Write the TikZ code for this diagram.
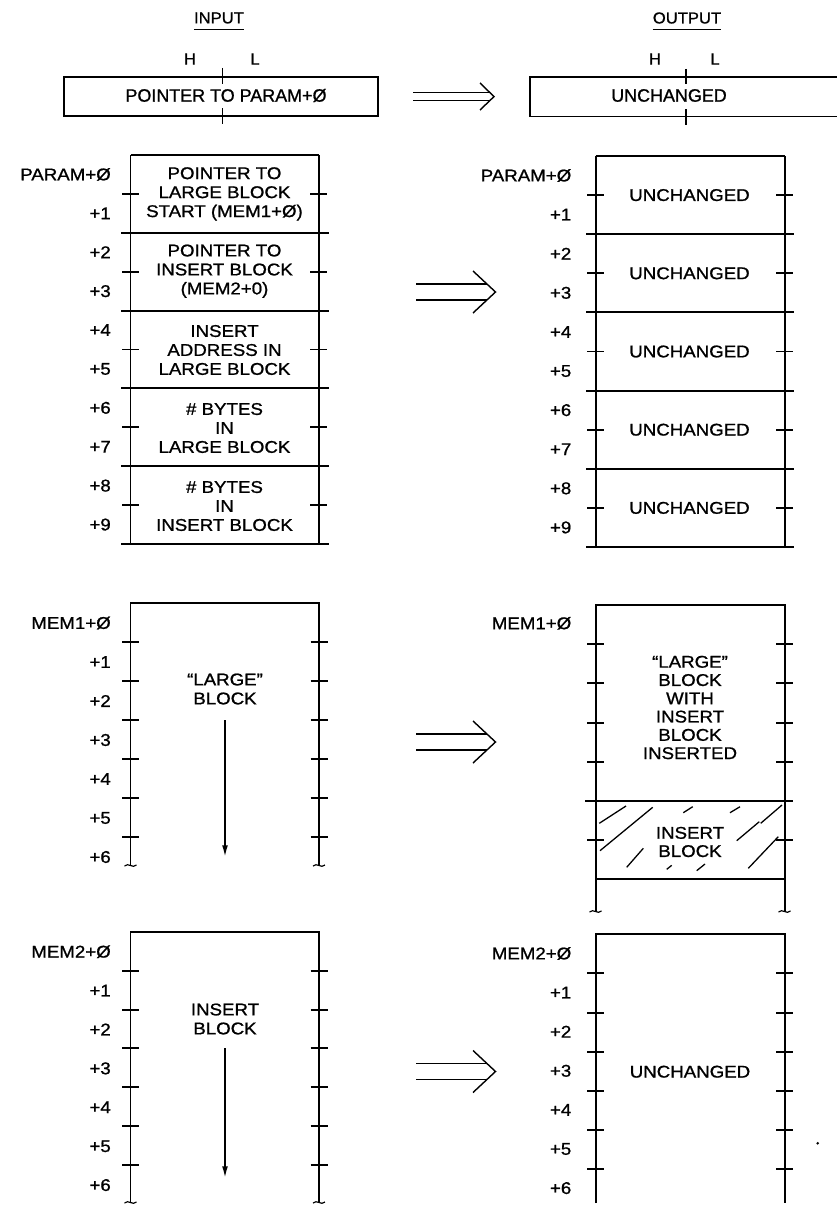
\documentclass[tikz,border=0pt]{standalone}
\usepackage{fontspec}
\setmainfont{Liberation Sans}[FakeBold=1]
\newfontfamily\blkfont{Liberation Sans}[FakeStretch=1.1,FakeBold=1]
\newfontfamily\hdrfont{Liberation Sans}[FakeStretch=1.05,FakeBold=0.8]
\usetikzlibrary{arrows.meta}
\newcommand\blksize{\fontsize{14.5pt}{16.2pt}\selectfont}
\newcommand\blksizeb{\fontsize{14.5pt}{15.6pt}\selectfont}
\begin{document}
\begin{tikzpicture}[x=0.03cm,y=-0.03cm,
  wall/.style={line width=1.7pt},
  tk/.style={line width=1.7pt},
  thin/.style={line width=1.2pt},
  brk/.style={line width=1pt},
  hatch/.style={line width=1.1pt},
  txt/.style={font={\blkfont\blksize}, align=center, inner sep=0pt},
  txtb/.style={font={\blkfont\blksizeb}, align=center, inner sep=0pt},
  lbl/.style={font={\blkfont\blksize}, anchor=east, inner sep=0pt},
  toptxt/.style={font={\fontsize{15.3pt}{17pt}\selectfont}, inner sep=0pt},
  hl/.style={font={\fontsize{14pt}{16pt}\selectfont}, inner sep=0pt},
  hdr/.style={font={\hdrfont\fontsize{13.5pt}{15pt}\selectfont}, inner sep=0pt},
  down/.style={line width=1.4pt, -{Latex[length=10pt,width=5pt]}},
  bigarrow/.pic={\draw[thin] (0,-8) -- (71,-8) (0,8) -- (71,8);
                 \draw[thin] (57,-21) -- (79.5,0) -- (57,21);},
  brkmark/.pic={\draw[brk] (-6,1) .. controls (-2,-3) and (2,4) .. (6,0);}
]
\fill[white] (0,0) rectangle (836,1205);
\useasboundingbox (0,0) rectangle (836,1205);

% ---------- headers ----------
\node[hdr] (inp) at (219,18) {INPUT};
\draw[thin] ([yshift=-5pt]inp.south west) -- ([yshift=-5pt]inp.south east);
\node[hdr] (outp) at (687,18) {OUTPUT};
\draw[thin] ([yshift=-5pt]outp.south west) -- ([yshift=-5pt]outp.south east);

% ---------- top row ----------
\node[hl] (hin) at (190,59) {H};
\node[hl] (lin) at (255,59) {L};
\draw[wall] (64,77) rectangle (378,116);
\draw[tk] (222.5,68) -- (222.5,84) (222.5,108) -- (222.5,124);
\node[toptxt] (ptr) at (226,95.5) {POINTER TO PARAM+Ø};

\node[hl] (hout) at (655,59) {H};
\node[hl] (lout) at (715,59) {L};
\draw[wall] (530,77) rectangle (850,116.5);
\draw[tk] (686,69) -- (686,84) (686,109) -- (686,125);
\node[toptxt] (unc0) at (669,95.5) {UNCHANGED};

% top double arrow
\draw[thin] (413,92.7) -- (490,92.7) (413,100.5) -- (490,100.5);
\draw[thin] (480,83) -- (494,96.6) -- (480,110);

% ---------- PARAM block, input ----------
\draw[wall] (130.5,155) -- (318.5,155);
\draw[wall] (130.5,155) -- (130.5,544) (318.5,155) -- (318.5,544);
\foreach \k in {1,...,5} {\pgfmathsetmacro\yy{155+77.8*\k}
  \draw[wall] (121,\yy) -- (329,\yy);}
\foreach \k in {0,...,4} {\pgfmathsetmacro\yy{155+38.9+77.8*\k}
  \draw[tk] (122,\yy) -- (139,\yy) (310,\yy) -- (327,\yy);}
\foreach \lab [count=\j from 0] in {PARAM+Ø,+1,+2,+3,+4,+5,+6,+7,+8,+9} {
  \pgfmathsetmacro\yy{155+19.45+38.9*\j}
  \node[lbl] (pl\j) at (111,\yy) {\lab};}
\node[txt] (pa) at (224.5,193.9) {POINTER TO\\LARGE BLOCK\\START (MEM1+Ø)};
\node[txt] (pb) at (224.5,271.2) {POINTER TO\\INSERT BLOCK\\(MEM2+0)};
\node[txt] (pc) at (224.5,350) {INSERT\\ADDRESS IN\\LARGE BLOCK};
\node[txt] (pd) at (224.5,428) {\# BYTES\\IN\\LARGE BLOCK};
\node[txt] (pe) at (224.5,506) {\# BYTES\\IN\\INSERT BLOCK};

% ---------- PARAM block, output ----------
\draw[wall] (595.5,156) -- (784.5,156);
\draw[wall] (595.5,156) -- (595.5,547) (784.5,156) -- (784.5,547);
\foreach \k in {1,...,5} {\pgfmathsetmacro\yy{156+78.2*\k}
  \draw[wall] (586,\yy) -- (794,\yy);}
\foreach \k in {0,...,4} {\pgfmathsetmacro\yy{156+39.1+78.2*\k}
  \draw[tk] (587,\yy) -- (604,\yy) (776,\yy) -- (793,\yy);
  \node[txt] (pu\k) at (689.5,\yy) {UNCHANGED};}
\foreach \lab [count=\j from 0] in {PARAM+Ø,+1,+2,+3,+4,+5,+6,+7,+8,+9} {
  \pgfmathsetmacro\yy{156+19.55+39.1*\j}
  \node[lbl] (pr\j) at (571.5,\yy) {\lab};}

\pic at (416,292) {bigarrow};

% ---------- MEM1, input ----------
\draw[wall] (130.5,865) -- (130.5,603.3) -- (319,603.3) -- (319,865);
\foreach \k in {1,...,6} {\pgfmathsetmacro\yy{603.3+39*\k}
  \draw[tk] (122,\yy) -- (139,\yy) (310.5,\yy) -- (327.5,\yy);}
\foreach \lab [count=\j from 0] in {MEM1+Ø,+1,+2,+3,+4,+5,+6} {
  \pgfmathsetmacro\yy{623+39*\j}
  \node[lbl] (ml\j) at (111,\yy) {\lab};}
\pic at (130.5,865) {brkmark};
\pic at (319,865) {brkmark};
\node[txt] (lg) at (225,689) {“LARGE”\\BLOCK};
\coordinate (d1s) at (225,720);
\coordinate (d1e) at (225,857);
\draw[down] (d1s) -- (d1e);

% ---------- MEM1, output ----------
\foreach \a/\b/\c/\d in {599.3/823.3/626/806, 600/850.7/652.7/807.3,
    626.7/867.3/643.3/848.3, 683.3/812.7/692.7/806.7, 730/812.7/740/806.7,
    736.7/840.7/759.3/821.7, 748.3/868.3/778.3/836.7, 760.7/823.3/782/805,
    666.7/869.3/671.7/865.3, 696.7/870.7/705/864}
  {\draw[hatch] (\a,\b) -- (\c,\d);}
\draw[wall] (595.5,911) -- (595.5,605) -- (784.5,605) -- (784.5,911);
\foreach \k in {1,2,3,4,6} {\pgfmathsetmacro\yy{605+39.2*\k}
  \draw[tk] (587,\yy) -- (604,\yy) (776,\yy) -- (793,\yy);}
\draw[wall] (585,801) -- (793,801);
\draw[wall] (595.5,879.4) -- (784.5,879.4);
\node[lbl] (mr0) at (571.5,623.3) {MEM1+Ø};
\pic at (595.5,911) {brkmark};
\pic at (784.5,911) {brkmark};
\node[txtb] (lgw) at (690,707.5) {“LARGE”\\BLOCK\\WITH\\INSERT\\BLOCK\\INSERTED};
\node[txtb] (ins) at (690,842) {INSERT\\BLOCK};

\pic at (416,742) {bigarrow};

% ---------- MEM2, input ----------
\draw[wall] (130.5,1202) -- (130.5,931.7) -- (319,931.7) -- (319,1202);
\foreach \k in {1,...,6} {\pgfmathsetmacro\yy{931.7+38.9*\k}
  \draw[tk] (122,\yy) -- (139,\yy) (310.5,\yy) -- (327.5,\yy);}
\foreach \lab [count=\j from 0] in {MEM2+Ø,+1,+2,+3,+4,+5,+6} {
  \pgfmathsetmacro\yy{951.7+38.9*\j}
  \node[lbl] (nl\j) at (111,\yy) {\lab};}
\pic at (130.5,1202) {brkmark};
\pic at (319,1202) {brkmark};
\node[txt] (ib) at (225,1019) {INSERT\\BLOCK};
\coordinate (d2s) at (225,1048);
\coordinate (d2e) at (225,1178);
\draw[down] (d2s) -- (d2e);

% ---------- MEM2, output ----------
\draw[wall] (595.5,1203) -- (595.5,934.3) -- (784.5,934.3) -- (784.5,1203);
\foreach \k in {1,...,6} {\pgfmathsetmacro\yy{934.3+39.1*\k}
  \draw[tk] (587,\yy) -- (604,\yy) (776,\yy) -- (793,\yy);}
\foreach \lab [count=\j from 0] in {MEM2+Ø,+1,+2,+3,+4,+5,+6} {
  \pgfmathsetmacro\yy{953.5+39.1*\j}
  \node[lbl] (nr\j) at (571.5,\yy) {\lab};}
\node[txt] (u2) at (690,1071.7) {UNCHANGED};
\fill (817.7,1143.3) circle[radius=1.2pt];

\pic at (416,1071.5) {bigarrow};
\end{tikzpicture}
\end{document}
